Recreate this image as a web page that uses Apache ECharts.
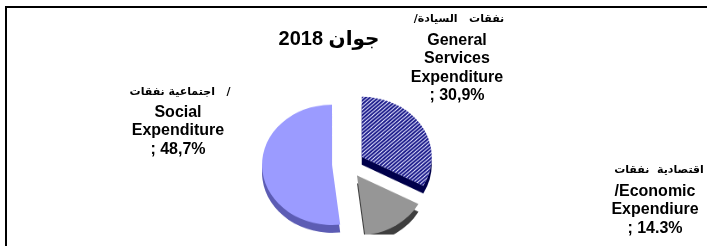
<!DOCTYPE html>
<html>
<head>
<meta charset="utf-8">
<script src="https://cdn.jsdelivr.net/npm/echarts@6/dist/echarts.min.js"></script>
<style>
    html, body {margin: 0; padding: 0; background: #fff;}
    #wrap {position: relative; width: 707px; height: 246px; overflow: hidden;}
    #pie, #text {position: absolute; left: 0; top: 0; width: 707px; height: 246px;}
    /* squash the pie into an ellipse, like a tilted 3d pie */
    #pie {transform: scaleY(0.86); transform-origin: 348px 164px;}
</style>
</head>
<body>
<div id="wrap">
    <div id="pie"></div>
    <div id="text"></div>
</div>
<script>
// pie data, clockwise from 12 o'clock
const categories = ['General Services Expenditure', 'Economic Expendiure', 'Social Expenditure'];
const shares = [30.9, 14.3, 48.7];
const shareText = ['30,9%', '14.3%', '48,7%'];
const arabicNames = ['/نفقات   السيادة', 'اقتصادية  نفقات', 'اجتماعية نفقات   /'];
const englishNames = ['General\nServices\nExpenditure', '/Economic\nExpendiure', 'Social\nExpenditure'];
const titleText = 'جوان 2018';

const topColors = ['#e4e4ff', '#969696', '#9b9bff'];
const sideColors = ['#00004a', '#3e3e3e', '#5c5cb4'];

// label blocks: [arabic centre x, arabic centre y, english centre x, english top y]
const labelPos = [[459, 19, 457, 31], [659, 170, 655, 182], [180, 92, 178, 103]];

const LRM = '\u200E';

let pieChart = echarts.init(document.getElementById('pie'), null, {renderer: 'canvas'});
let textChart = echarts.init(document.getElementById('text'), null, {renderer: 'canvas'});

const center = [348, 164];
const radius = 70;
const depth = 9;

function buildData(colors, withDecal) {
    return shares.map(function (v, i) {
        let item = {
            name: categories[i],
            value: v,
            selected: true,
            itemStyle: {color: colors[i]}
        };
        if (withDecal && i === 0) {
            item.itemStyle.decal = {
                color: '#1e1e8c',
                symbol: 'rect',
                dashArrayX: [1, 0],
                dashArrayY: [2, 1],
                rotation: -Math.PI / 4,
                symbolSize: 1
            };
        }
        return item;
    });
}

let pieBase = {
    type: 'pie',
    silent: true,
    radius: radius,
    startAngle: 90,
    clockwise: true,
    selectedMode: 'multiple',
    selectedOffset: 16,
    label: {show: false},
    labelLine: {show: false}
};

pieChart.setOption({
    animation: false,
    series: [
        // side (depth) of the pie
        Object.assign({}, pieBase, {
            z: 1,
            center: [center[0], center[1] + depth],
            data: buildData(sideColors, false)
        }),
        Object.assign({}, pieBase, {
            z: 2,
            center: center,
            data: buildData(topColors, true)
        })
    ]
});

let graphics = [{
    type: 'rect',
    shape: {x: 6, y: 7, width: 720, height: 260},
    style: {fill: 'none', stroke: '#000', lineWidth: 2}
}, {
    type: 'text',
    x: 329,
    y: 39,
    style: {
        text: LRM + titleText,
        font: 'bold 20px "Liberation Sans", Arial, "DejaVu Sans"',
        fill: '#000',
        textAlign: 'center',
        textVerticalAlign: 'middle'
    }
}];

categories.forEach(function (c, i) {
    let p = labelPos[i];
    graphics.push({
        type: 'text',
        x: p[0],
        y: p[1],
        style: {
            text: LRM + arabicNames[i],
            font: 'bold 11px "DejaVu Sans", "Noto Sans"',
            fill: '#000',
            textAlign: 'center',
            textVerticalAlign: 'middle'
        }
    });
    graphics.push({
        type: 'text',
        x: p[2],
        y: p[3],
        style: {
            text: englishNames[i] + '\n; ' + shareText[i],
            font: 'bold 16px "Liberation Sans", Arial',
            lineHeight: 18.5,
            fill: '#000',
            textAlign: 'center',
            textVerticalAlign: 'top'
        }
    });
});

textChart.setOption({
    animation: false,
    graphic: graphics
});
</script>
</body>
</html>
